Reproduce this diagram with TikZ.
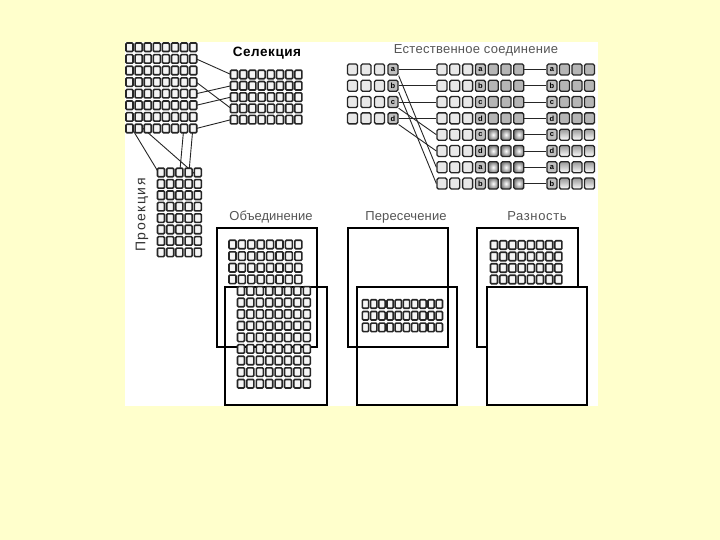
\documentclass[tikz,border=0pt]{standalone}
\usepackage{fontspec}
\setmainfont{Liberation Sans}
\definecolor{pagebg}{HTML}{FFFFCC}
\definecolor{labelgray}{HTML}{555555}

\begin{document}
\begin{tikzpicture}[
    x=1pt, y=-1pt,
    cell/.style={draw=black!85, line width=1.6pt, fill=gray!8, rounded corners=1pt, minimum width=7pt, minimum height=8.5pt, inner sep=0pt},
    jcell/.style={draw=black!85, line width=1.3pt, rounded corners=1.5pt, minimum width=10pt, minimum height=11pt, inner sep=0pt},
    light/.style={jcell, fill=gray!18},
    key/.style={jcell, fill=gray!50, text=black, font=\fontsize{7.5}{7.5}\selectfont\bfseries},
    dark/.style={jcell, fill=gray!58},
    bulb/.style={jcell, inner color=white, outer color=black!50},
    fade/.style={jcell, top color=gray!80, bottom color=white},
    link/.style={draw=black!85, line width=0.9pt},
    frame/.style={draw=black, line width=1.2pt},
    caption/.style={text=labelgray, anchor=base}
]
    % Page and panel
    \fill[pagebg] (0,0) rectangle (720,540);
    \useasboundingbox (0,0) rectangle (720,540);
    \fill[white] (125,42) rectangle (598,406);

    % Selection and projection: source table
    \foreach \r in {1,...,8}
        \foreach \c in {1,...,8}
            \coordinate (L-\r-\c) at ({129.5+(\c-1)*9.1},{47.3+(\r-1)*11.6});
    % Selection result
    \foreach \r in {1,...,5}
        \foreach \c in {1,...,8}
            \coordinate (S-\r-\c) at ({234+(\c-1)*9.2},{74.5+(\r-1)*11.3});
    % Projection result
    \foreach \r in {1,...,8}
        \foreach \c in {1,...,5}
            \coordinate (P-\r-\c) at ({161+(\c-1)*9.2},{172.5+(\r-1)*11.4});

    % Selection links
    \foreach \a/\b in {2/1, 4/4, 5/2, 6/3, 8/5}
        \draw[link] ([xshift=3pt]L-\a-8) -- ([xshift=-3pt]S-\b-1);
    % Projection links
    \foreach \a/\b in {1/1, 2/5, 7/3, 8/4}
        \draw[link] ([yshift=4pt]L-8-\a) -- ([yshift=-4pt]P-1-\b);

    \foreach \r in {1,...,8}
        \foreach \c in {1,...,8}
            \node[cell] (l-\r-\c) at (L-\r-\c) {};
    \foreach \r in {1,...,5}
        \foreach \c in {1,...,8}
            \node[cell] (s-\r-\c) at (S-\r-\c) {};
    \foreach \r in {1,...,8}
        \foreach \c in {1,...,5}
            \node[cell] (p-\r-\c) at (P-\r-\c) {};

    \node[font=\fontsize{13.5}{13.5}\selectfont\bfseries\addfontfeature{LetterSpace=4}] (sel) at (267,53) {Селекция};
    \node[font=\fontsize{14}{14}\selectfont\addfontfeature{LetterSpace=11}, text=black!80, rotate=90] (proj) at (142,215) {Проекция};

    % Natural join
    \node[caption, font=\fontsize{13}{13}\selectfont\addfontfeature{LetterSpace=2}] (join) at (476,54) {Естественное соединение};
    \foreach \r/\k in {1/a, 2/b, 3/c, 4/d} {
        \foreach \c in {1,2,3}
            \node[light] (J-\r-\c) at ({352.5+(\c-1)*13.5},{69.5+(\r-1)*16.3}) {};
        \node[key] (J-\r-4) at (393,{69.5+(\r-1)*16.3}) {\k};
    }
    \foreach \r/\k/\t in {1/a/dark, 2/b/dark, 3/c/dark, 4/d/dark, 5/c/bulb, 6/d/bulb, 7/a/bulb, 8/b/bulb} {
        \foreach \c in {1,2,3}
            \node[light] (M-\r-\c) at ({442+(\c-1)*12.8},{69.5+(\r-1)*16.3}) {};
        \node[key] (M-\r-4) at (480.4,{69.5+(\r-1)*16.3}) {\k};
        \foreach \c in {5,6,7}
            \node[\t] (M-\r-\c) at ({442+(\c-1)*12.8},{69.5+(\r-1)*16.3}) {};
    }
    \foreach \r/\k/\t in {1/a/dark, 2/b/dark, 3/c/dark, 4/d/dark, 5/c/fade, 6/d/fade, 7/a/fade, 8/b/fade} {
        \node[key] (R-\r-1) at (552,{69.5+(\r-1)*16.3}) {\k};
        \foreach \c in {2,3,4}
            \node[\t] (R-\r-\c) at ({552+(\c-1)*12.5},{69.5+(\r-1)*16.3}) {};
    }
    \foreach \r in {1,...,4}
        \draw[link] (J-\r-4.east) -- (M-\r-1.west);
    \foreach \a/\b in {1/7, 2/8, 3/5, 4/6}
        \draw[link] (J-\a-4.south east) -- (M-\b-1.west);
    \foreach \r in {1,...,8}
        \draw[link] (M-\r-7.east) -- (R-\r-1.west);

    % Union
    \node[caption, font=\fontsize{13}{13}\selectfont] (uni) at (271,221) {Объединение};
    \draw[frame] (217,228) rectangle (317,347);
    \draw[frame] (225,287) rectangle (327,405);
    \foreach \r in {1,...,4}
        \foreach \c in {1,...,8}
            \node[cell] (u-\r-\c) at ({232.5+(\c-1)*9.4},{244.5+(\r-1)*11.6}) {};
    \foreach \r in {5,...,13}
        \foreach \c in {1,...,8}
            \node[cell] (u-\r-\c) at ({241+(\c-1)*9.4},{244.5+(\r-1)*11.6}) {};

    % Intersection
    \node[caption, font=\fontsize{13}{13}\selectfont\addfontfeature{LetterSpace=1}] (inter) at (406,221) {Пересечение};
    \draw[frame] (348,228) rectangle (448,347);
    \draw[frame] (357,287) rectangle (457,405);
    \foreach \r in {1,2,3}
        \foreach \c in {1,...,10}
            \node[cell, minimum width=6.3pt] (i-\r-\c) at ({365.5+(\c-1)*8.2},{304+(\r-1)*11.7}) {};

    % Difference
    \node[caption, font=\fontsize{13}{13}\selectfont\addfontfeature{LetterSpace=5}] (diff) at (537,221) {Разность};
    \draw[frame] (477,228) rectangle (578,347);
    \foreach \r in {1,...,4}
        \foreach \c in {1,...,8}
            \node[cell] (d-\r-\c) at ({494+(\c-1)*9.2},{245+(\r-1)*11.5}) {};
    \draw[frame, fill=white] (487,287) rectangle (587,405);
\end{tikzpicture}
\end{document}
